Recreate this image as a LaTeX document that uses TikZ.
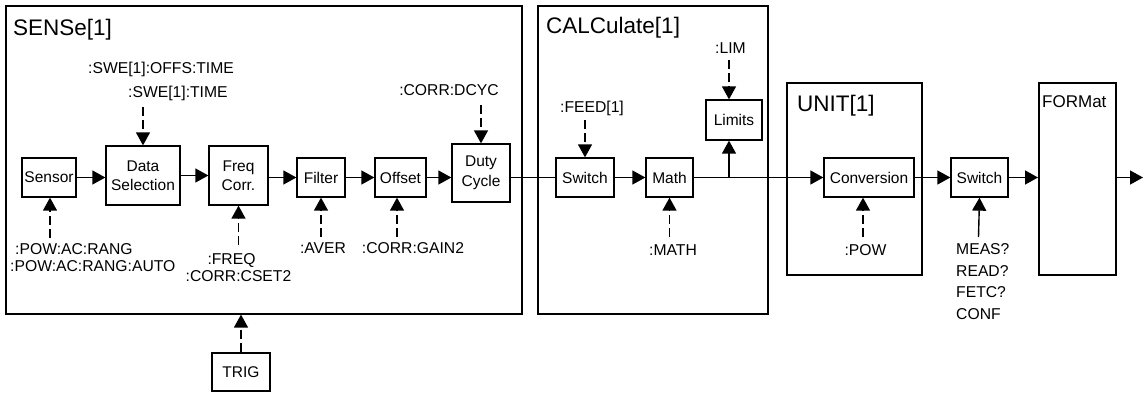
\documentclass[tikz,border=0pt]{standalone}
\usepackage{fontspec}
\setmainfont{Liberation Sans}
\usetikzlibrary{arrows.meta}
\tikzset{
  grp/.style={draw, line width=1.6pt, anchor=north west, inner sep=0pt},
  blk/.style={draw, line width=1.3pt, align=center, inner sep=0pt, font=\fontsize{15.5}{19.5}\selectfont},
  ttl/.style={anchor=base west, inner sep=0pt, font=\fontsize{22.5}{26}\selectfont},
  lbl/.style={anchor=base, inner sep=0pt, font=\fontsize{15.7}{20}\selectfont},
  flow/.style={-{Triangle[length=13pt,width=14pt]}, line width=1.4pt},
  ctrl/.style={flow, dash pattern=on 9pt off 4pt}
}

\begin{document}
\begin{tikzpicture}[x=1pt, y=-1pt]
  \useasboundingbox (0,0) rectangle (1146,394);
  % subsystem frames
  \node[grp, minimum width=516, minimum height=308] (sense) at (5,5) {};
  \node[grp, minimum width=230, minimum height=308] (calc) at (537,5) {};
  \node[grp, minimum width=135, minimum height=192] (unit) at (786,82) {};
  \node[grp, minimum width=77, minimum height=192] (fmt) at (1038,82) {};
  \node[ttl] (senset) at (13,35) {SENSe[1]};
  \node[ttl] (calct) at (546,33) {CALCulate[1]};
  \node[ttl] (unitt) at (797,111.5) {UNIT[1]};
  \node[ttl, font=\fontsize{17}{20}\selectfont] (fmtt) at (1042,107) {FORMat};
  % blocks
  \node[blk, minimum width=54, minimum height=39] (sensor) at (49,177.5) {Sensor};
  \node[blk, minimum width=74, minimum height=59] (datasel) at (143,175.5) {Data\\Selection};
  \node[blk, minimum width=59, minimum height=59] (freq) at (238.5,175.5) {Freq\\Corr.};
  \node[blk, minimum width=48, minimum height=39] (filter) at (321,177.5) {Filter};
  \node[blk, minimum width=51, minimum height=39] (offset) at (400.5,177.5) {Offset};
  \node[blk, minimum width=58, minimum height=58] (duty) at (481,173) {Duty\\Cycle};
  \node[blk, minimum width=58, minimum height=39] (swcalc) at (585,177.5) {Switch};
  \node[blk, minimum width=47, minimum height=39] (math) at (669.5,177.5) {Math};
  \node[blk, minimum width=56, minimum height=40] (limits) at (734,120) {Limits};
  \node[blk, minimum width=90, minimum height=39] (conv) at (869,177.5) {Conversion};
  \node[blk, minimum width=57, minimum height=39] (swout) at (979.5,177.5) {Switch};
  \node[blk, minimum width=58, minimum height=38] (trig) at (241,372) {TRIG};
  % command labels
  \node[lbl, anchor=base west] (swea) at (88,73) {:SWE[1]:OFFS:TIME};
  \node[lbl, anchor=base west] (sweb) at (128,97) {:SWE[1]:TIME};
  \node[lbl] (dcyc) at (449,95) {:CORR:DCYC};
  \node[lbl] (feed) at (592,112) {:FEED[1]};
  \node[lbl] (lim) at (730.5,53) {:LIM};
  \node[lbl, anchor=base west] (powa) at (15,254) {:POW:AC:RANG};
  \node[lbl, anchor=base west] (powb) at (10,271.5) {:POW:AC:RANG:AUTO};
  \node[lbl] (freqa) at (231.5,264) {:FREQ};
  \node[lbl] (freqb) at (238.5,281) {:CORR:CSET2};
  \node[lbl] (aver) at (323,253) {:AVER};
  \node[lbl] (gain) at (413,253) {:CORR:GAIN2};
  \node[lbl] (mathl) at (673,255) {:MATH};
  \node[lbl] (powl) at (865.5,255) {:POW};
  \node[lbl, anchor=north west, align=left, font=\fontsize{15.7}{21.6}\selectfont] (meas) at (956,243.5) {MEAS?\\READ?\\FETC?\\CONF};
  % free ends
  \coordinate (sweend) at (143,107);
  \coordinate (dcycend) at (481,105);
  \coordinate (feedend) at (585,120);
  \coordinate (limend) at (729,60);
  \coordinate (powend) at (50,238);
  \coordinate (freqend) at (238.5,245);
  \coordinate (averend) at (321,237);
  \coordinate (gainend) at (397,237);
  \coordinate (mathend) at (669.5,237);
  \coordinate (convend) at (863,237);
  \coordinate (measend) at (978.5,237);
  \coordinate (branch) at (729,177.5);
  \coordinate (outend) at (1143,177.5);
  % data path
  \draw[flow] (sensor.east) -- (sensor.east -| datasel.west);
  \draw[flow] (datasel.east) -- (freq.west);
  \draw[flow] (freq.east |- filter) -- (filter.west);
  \draw[flow] (filter.east) -- (offset.west);
  \draw[flow] (offset.east) -- (offset.east -| duty.west);
  \draw[line width=1.4pt] (duty.east |- swcalc) -- (swcalc.west);
  \draw[flow] (swcalc.east) -- (math.west);
  \draw[flow] (math.east) -- (conv.west);
  \draw[flow] (branch) -- (branch |- limits.south);
  \draw[flow] (conv.east) -- (swout.west);
  \draw[flow] (swout.east) -- (swout.east -| fmt.west);
  \draw[flow] (fmt.east |- swout) -- (outend);
  % control inputs
  \draw[ctrl] (sweend) -- (datasel.north);
  \draw[ctrl] (dcycend) -- (duty.north);
  \draw[ctrl] (feedend) -- (swcalc.north);
  \draw[ctrl] (limend) -- (limend |- limits.north);
  \draw[ctrl] (powend) -- (powend |- sensor.south);
  \draw[ctrl] (freqend) -- (freq.south);
  \draw[ctrl] (averend) -- (filter.south);
  \draw[ctrl] (gainend) -- (gainend |- offset.south);
  \draw[ctrl] (mathend) -- (math.south);
  \draw[ctrl] (convend) -- (convend |- conv.south);
  \draw[flow] (measend) -- (swout.south);
  \draw[ctrl] (trig.north) -- (trig.north |- sense.south);
\end{tikzpicture}
\end{document}
